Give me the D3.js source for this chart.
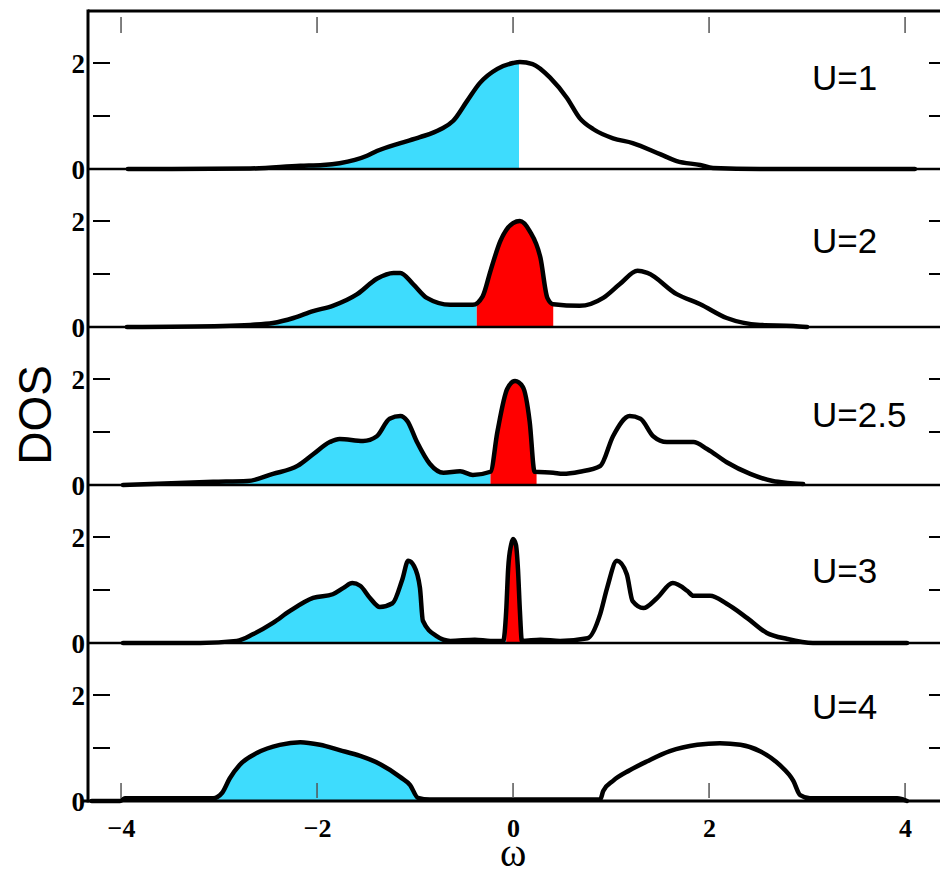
<!DOCTYPE html>
<html><head><meta charset="utf-8">
<script src="https://cdn.jsdelivr.net/npm/d3@7/dist/d3.min.js"></script>
<style>body{margin:0;background:#fff}</style>
</head><body><svg id="chart" width="940" height="875"></svg>
<script>
// ---------- data ----------
const panelLabels = ["U=1","U=2","U=2.5","U=3","U=4"];
const labelY = [1.5, 1.4, 1.1, 1.13, 1.55];

const w1 = [-3.93,-2.68,-2.17,-1.94,-1.77,-1.49,-1.39,-1.15,-0.95,-0.74,-0.61,-0.47,-0.34,-0.16,0,0.07,0.20,0.38,0.55,0.68,0.82,1.02,1.22,1.50,1.67,1.91,2.04,2.52,4.10];
const d1 = [0,0.01,0.06,0.075,0.11,0.25,0.34,0.49,0.60,0.75,0.91,1.28,1.62,1.89,2.0,2.02,1.98,1.72,1.34,0.96,0.75,0.58,0.49,0.28,0.15,0.075,0.02,0,0];

const w2 = [-3.94,-2.96,-2.68,-2.45,-2.24,-2.04,-1.84,-1.59,-1.39,-1.22,-1.15,-1.02,-0.88,-0.64,-0.41,-0.31,-0.23,-0.13,0,0.07,0.17,0.28,0.35,0.41,0.68,0.92,1.09,1.27,1.37,1.67,1.91,2.18,2.52,2.86,3.0];
const d2 = [0,0.02,0.04,0.075,0.17,0.30,0.40,0.62,0.91,1.02,1.02,0.81,0.55,0.42,0.42,0.58,1.06,1.62,1.96,2.0,1.81,1.30,0.55,0.43,0.40,0.55,0.81,1.06,1.02,0.62,0.43,0.17,0.04,0.02,0];

const w3 = [-3.98,-3.06,-2.71,-2.45,-2.20,-2.04,-1.87,-1.77,-1.53,-1.39,-1.26,-1.15,-1.08,-0.98,-0.85,-0.71,-0.54,-0.41,-0.23,-0.16,-0.06,0.02,0.10,0.17,0.22,0.41,0.51,0.68,0.89,1.02,1.19,1.30,1.43,1.57,1.84,1.98,2.18,2.42,2.65,2.80,2.96];
const d3v = [0,0.06,0.075,0.21,0.36,0.58,0.81,0.87,0.83,0.92,1.25,1.30,1.21,0.81,0.40,0.23,0.26,0.19,0.25,1.0,1.81,1.96,1.85,1.19,0.25,0.23,0.21,0.25,0.36,0.92,1.30,1.25,0.92,0.81,0.81,0.68,0.43,0.21,0.075,0.04,0.02];

const w4 = [-3.98,-3.19,-2.82,-2.65,-2.45,-2.28,-2.04,-1.84,-1.73,-1.64,-1.56,-1.46,-1.36,-1.23,-1.13,-1.07,-1.01,-0.95,-0.92,-0.78,-0.64,-0.39,-0.23,-0.10,-0.07,-0.05,-0.02,0,0.03,0.05,0.07,0.09,0.28,0.48,0.76,0.89,0.96,1.06,1.16,1.22,1.33,1.47,1.63,1.78,1.84,2.01,2.18,2.39,2.59,2.80,3.06,4.02];
const d4 = [0,0,0.04,0.17,0.38,0.60,0.85,0.92,1.04,1.13,1.08,0.85,0.68,0.75,1.2,1.55,1.45,1.04,0.42,0.13,0.04,0.06,0.04,0.04,0.6,1.4,1.85,1.96,1.85,1.4,0.6,0.04,0.06,0.04,0.09,0.55,1.04,1.55,1.30,0.79,0.66,0.85,1.13,0.98,0.89,0.89,0.74,0.47,0.19,0.075,0,0];

const w5 = [-4.30,-4.01,-3.96,-3.06,-2.97,-2.89,-2.79,-2.61,-2.38,-2.17,-1.97,-1.77,-1.56,-1.36,-1.15,-1.05,-0.97,-0.85,0.89,0.92,1.02,1.19,1.37,1.60,1.88,2.11,2.32,2.52,2.72,2.86,2.93,3.03,3.92,4.02];
const d5 = [0,0,0.05,0.05,0.15,0.43,0.68,0.91,1.06,1.11,1.06,0.96,0.85,0.70,0.45,0.30,0.06,0.03,0.03,0.19,0.38,0.58,0.75,0.94,1.06,1.09,1.06,0.94,0.68,0.38,0.11,0.05,0.05,0];

const cyanEnd  = [0.06, -0.37, -0.23, -0.07, 0];
const redStart = [null, -0.37, -0.23, -0.07, null];
const redEnd   = [null, 0.41, 0.24, 0.09, null];

const xTicks = [-4, -2, 0, 2, 4];
const xTickLabels = ["\u22124", "\u22122", "0", "2", "4"];
const yTicks = [0, 1, 2];
const yTickLabels = ["0", "", "2"];

// ---------- layout ----------
const W = [w1, w2, w3, w4, w5];
const D = [d1, d2, d3v, d4, d5];
const left = 88, right = 943, top0 = 11, panelH = 158, pxPerUnit = 53;
const CYAN = "#3edcfd", RED = "#ff0000";
const SERIF = "'Liberation Serif', 'Times New Roman', serif";
const SANS = "'Liberation Sans', Arial, sans-serif";

const svg = d3.select("#chart");
const x = d3.scaleLinear().domain([-4.337, 4.387]).range([left, right]);

const defs = svg.append("defs");

panelLabels.forEach((lab, i) => {
  const pTop = top0 + i * panelH;
  const pBot = pTop + panelH;
  const y = d3.scaleLinear().domain([0, panelH / pxPerUnit]).range([pBot, pTop]);
  const pts = W[i].map((w, j) => [w, D[i][j]]);
  const g = svg.append("g");

  const area = d3.area().curve(d3.curveMonotoneX)
    .x(d => x(d[0])).y0(y(0)).y1(d => y(d[1]));
  const line = d3.line().curve(d3.curveMonotoneX)
    .x(d => x(d[0])).y(d => y(d[1]));

  const cid = "cc" + i;
  defs.append("clipPath").attr("id", cid).append("rect")
    .attr("x", left).attr("y", pTop).attr("width", x(cyanEnd[i]) - left).attr("height", panelH);
  g.append("path").datum(pts).attr("d", area).attr("fill", CYAN).attr("clip-path", `url(#${cid})`);

  if (redStart[i] !== null) {
    const rid = "rc" + i;
    defs.append("clipPath").attr("id", rid).append("rect")
      .attr("x", x(redStart[i])).attr("y", pTop).attr("width", x(redEnd[i]) - x(redStart[i])).attr("height", panelH);
    g.append("path").datum(pts).attr("d", area).attr("fill", RED).attr("clip-path", `url(#${rid})`);
  }

  g.append("path").datum(pts).attr("d", line)
    .attr("fill", "none").attr("stroke", "#000").attr("stroke-width", 4.5)
    .attr("stroke-linejoin", "round").attr("stroke-linecap", "round");

  yTicks.forEach((t, k) => {
    if (t > 0) {
      g.append("line").attr("x1", left + 5).attr("x2", left + 22)
        .attr("y1", y(t)).attr("y2", y(t)).attr("stroke", "#000").attr("stroke-width", 2);
      g.append("line").attr("x1", 929).attr("x2", right)
        .attr("y1", y(t)).attr("y2", y(t)).attr("stroke", "#000").attr("stroke-width", 2);
    }
    if (yTickLabels[k] !== "") {
      g.append("text").attr("x", left - 3).attr("y", y(t) + 10)
        .attr("text-anchor", "end")
        .style("font-family", SERIF).style("font-weight", "bold")
        .style("font-size", "27px").text(yTickLabels[k]);
    }
  });

  g.append("text").attr("x", 812).attr("y", y(labelY[i]))
    .style("font-family", SANS).style("font-size", "35px")
    .attr("fill", "#000").text(lab);

  g.append("line").attr("x1", left).attr("x2", right).attr("y1", pTop).attr("y2", pTop)
    .attr("stroke", "#000").attr("stroke-width", i === 0 ? 3 : 2.5);
  if (i === panelLabels.length - 1) {
    g.append("line").attr("x1", left - 6).attr("x2", right).attr("y1", pBot).attr("y2", pBot)
      .attr("stroke", "#000").attr("stroke-width", 3);
  }
});

const bottom = top0 + panelH * panelLabels.length;

svg.append("line").attr("x1", left).attr("x2", left).attr("y1", top0 - 1.5).attr("y2", bottom + 1.5)
  .attr("stroke", "#000").attr("stroke-width", 3);

xTicks.forEach(t => {
  svg.append("line").attr("x1", x(t)).attr("x2", x(t)).attr("y1", top0 + 6).attr("y2", top0 + 22)
    .attr("stroke", "#555").attr("stroke-width", 1.5);
  svg.append("line").attr("x1", x(t)).attr("x2", x(t)).attr("y1", bottom - 3).attr("y2", bottom - 18)
    .attr("stroke", "#555").attr("stroke-width", 1.5);
});

const xAxis = d3.axisBottom(x).tickValues(xTicks).tickSize(0).tickPadding(0)
  .tickFormat((d, k) => xTickLabels[k]);
const ax = svg.append("g").attr("transform", `translate(0,${bottom + 36})`).call(xAxis);
ax.select(".domain").remove();
ax.selectAll("text").attr("dy", null)
  .style("font-family", SERIF).style("font-weight", "bold")
  .style("font-size", "26px").attr("fill", "#000");

svg.append("text").attr("x", x(0)).attr("y", 866).attr("text-anchor", "middle")
  .style("font-family", SERIF).style("font-size", "40px").text("\u03c9");
svg.append("text").attr("transform", "translate(51,415) rotate(-90)").attr("text-anchor", "middle")
  .style("font-family", SANS).style("font-size", "46px").text("DOS");
</script>
</body></html>
